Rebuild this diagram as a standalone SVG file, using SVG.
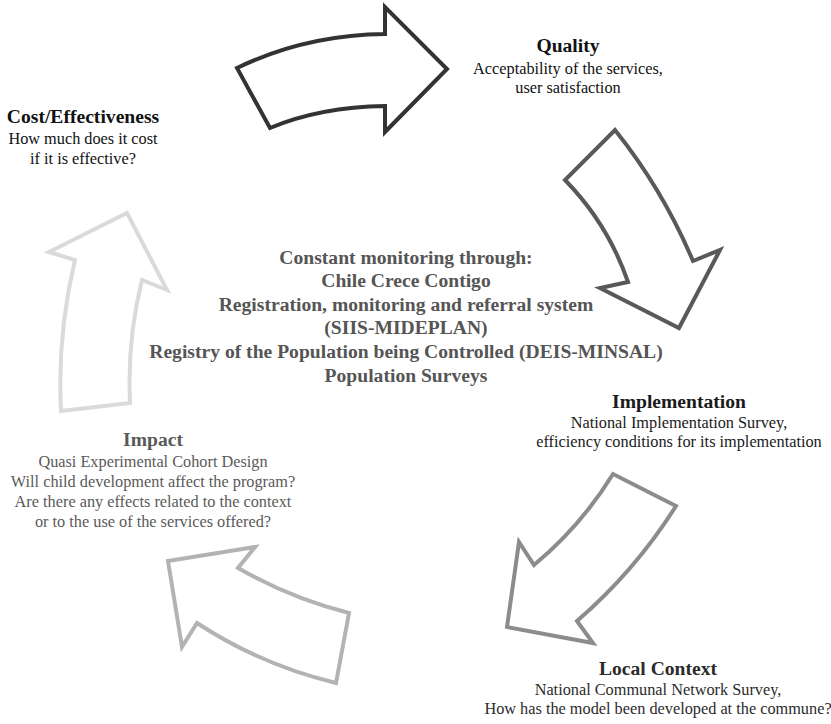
<svg xmlns="http://www.w3.org/2000/svg" width="831" height="724" viewBox="0 0 831 724">
<style>
.arr{fill:#fff;stroke-width:4;stroke-linejoin:miter;stroke-miterlimit:10}
text{font-family:"Liberation Serif","Times New Roman",serif;text-anchor:middle}
.h{font-weight:bold;font-size:19.6px}
.b{font-size:16.3px}
.c{font-weight:bold;font-size:19.6px;fill:#555}
</style>
<rect width="831" height="724" fill="#fff"/>
<g id="connectors">
<path id="arrow-cost-quality" class="arr" stroke="#333" d="M237,68 Q305,35 385,34 L385,7 L447,69 L385,132 L385,106 Q320,107 270,128 Z"/>
<path id="arrow-quality-implementation" class="arr" stroke="#595959" d="M615,130 Q663,190 693,261 L720,250 L679,328 L600,288 L628,282 Q608,224 565,180 Z"/>
<path id="arrow-implementation-local" class="arr" stroke="#8c8c8c" d="M613,474 L676,506 Q635,571 577,621 L593,643 L507,627 L519,542 L534,565 Q581,526 613,474 Z"/>
<path id="arrow-local-impact" class="arr" stroke="#b3b3b3" d="M168,561 L255,547 L238,568 Q290,598 349,613 L336,683 Q261,665 197,623 L182,647 Z"/>
<path id="arrow-impact-cost" class="arr" stroke="#dadada" d="M127,213 L167,290 L142,280 Q127,340 130,403 L61,411 Q57,335 75,260 L49,252 Z"/>
</g>
<g id="node-quality" fill="#111">
<text class="h" x="568" y="52">Quality</text>
<text class="b" x="568" y="73.5">Acceptability of the services,</text>
<text class="b" x="568" y="93">user satisfaction</text>
</g>
<g id="node-cost" fill="#111">
<text class="h" x="83" y="122.7">Cost/Effectiveness</text>
<text class="b" x="83" y="144">How much does it cost</text>
<text class="b" x="83" y="163.5">if it is effective?</text>
</g>
<g id="node-center">
<text class="c" x="406" y="263.5">Constant monitoring through:</text>
<text class="c" x="406" y="287">Chile Crece Contigo</text>
<text class="c" x="406" y="310.5">Registration, monitoring and referral system</text>
<text class="c" x="406" y="334">(SIIS-MIDEPLAN)</text>
<text class="c" x="406" y="358">Registry of the Population being Controlled (DEIS-MINSAL)</text>
<text class="c" x="406" y="381.5">Population Surveys</text>
</g>
<g id="node-implementation" fill="#1a1a1a">
<text class="h" x="679" y="408">Implementation</text>
<text class="b" x="679" y="428">National Implementation Survey,</text>
<text class="b" x="679" y="447">efficiency conditions for its implementation</text>
</g>
<g id="node-local-context" fill="#2b2b2b">
<text class="h" x="658" y="675">Local Context</text>
<text class="b" x="658" y="695">National Communal Network Survey,</text>
<text class="b" x="658" y="714">How has the model been developed at the commune?</text>
</g>
<g id="node-impact" fill="#5a5a5a">
<text class="h" x="153" y="446">Impact</text>
<text class="b" x="153" y="466.5">Quasi Experimental Cohort Design</text>
<text class="b" x="153" y="487">Will child development affect the program?</text>
<text class="b" x="153" y="507">Are there any effects related to the context</text>
<text class="b" x="153" y="527">or to the use of the services offered?</text>
</g>
</svg>
